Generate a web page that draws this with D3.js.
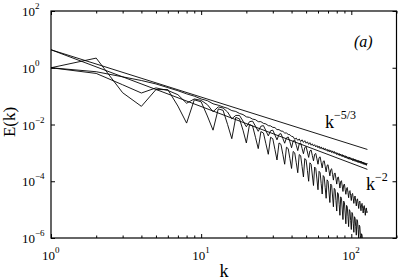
<!DOCTYPE html>
<html>
<head>
<meta charset="utf-8">
<script src="https://cdn.jsdelivr.net/npm/d3@7"></script>
<style>
  body { margin: 0; background: #fff; }
  svg { display: block; font-family: "Liberation Serif", "Times New Roman", serif; }
</style>
</head>
<body>
<svg id="chart" width="398" height="280"></svg>
<script>
// wavenumbers k = 1..128
var kValues = d3.range(1, 129)

// log10 E(k)
var logE_a = [
  0, -0.14, -0.32, -0.45, -0.57, -0.7, -0.81, -0.92, -1.0, -1.1,
  -1.16, -1.27, -1.32, -1.38, -1.43, -1.51, -1.54, -1.61, -1.65, -1.73,
  -1.75, -1.81, -1.83, -1.9, -1.9, -1.96, -1.98, -2.04, -2.05, -2.1,
  -2.11, -2.18, -2.18, -2.23, -2.24, -2.3, -2.3, -2.35, -2.36, -2.42,
  -2.43, -2.52, -2.48, -2.56, -2.51, -2.6, -2.54, -2.63, -2.57, -2.66,
  -2.61, -2.7, -2.64, -2.73, -2.68, -2.76, -2.71, -2.79, -2.74, -2.82,
  -2.76, -2.85, -2.79, -2.87, -2.82, -2.9, -2.84, -2.92, -2.87, -2.95,
  -2.89, -2.97, -2.91, -2.99, -2.93, -3.01, -2.95, -3.03, -2.98, -3.06,
  -3.0, -3.08, -3.02, -3.1, -3.04, -3.12, -3.06, -3.14, -3.08, -3.16,
  -3.1, -3.18, -3.12, -3.2, -3.14, -3.22, -3.15, -3.23, -3.17, -3.25,
  -3.19, -3.27, -3.2, -3.28, -3.22, -3.3, -3.23, -3.31, -3.25, -3.33,
  -3.26, -3.34, -3.28, -3.35, -3.29, -3.37, -3.3, -3.38, -3.32, -3.4,
  -3.33, -3.41, -3.35, -3.42, -3.36, -3.44, -3.37, -3.39
]

var logE_b = [
  0, -0.2, -0.6, -0.89, -0.71, -0.8, -0.95, -1.25, -1.1, -1.15,
  -1.3, -1.55, -1.38, -1.42, -1.56, -1.8, -1.68, -1.68, -1.88, -2.08,
  -1.9, -1.88, -2.06, -2.24, -2.06, -2.04, -2.22, -2.4, -2.22, -2.2,
  -2.37, -2.54, -2.35, -2.32, -2.49, -2.66, -2.47, -2.44, -2.61, -2.82,
  -2.58, -2.55, -2.73, -2.92, -2.68, -2.65, -2.84, -3.03, -2.81, -2.78,
  -2.97, -3.16, -2.93, -2.9, -3.09, -3.28, -3.05, -3.02, -3.21, -3.4,
  -3.17, -3.14, -3.34, -3.53, -3.3, -3.28, -3.47, -3.67, -3.44, -3.42,
  -3.62, -3.81, -3.59, -3.56, -3.76, -3.96, -3.73, -3.71, -3.9, -4.1,
  -3.87, -3.85, -4.04, -4.24, -4.01, -3.98, -4.17, -4.36, -4.13, -4.1,
  -4.29, -4.46, -4.25, -4.22, -4.4, -4.58, -4.36, -4.33, -4.51, -4.68,
  -4.46, -4.43, -4.6, -4.78, -4.56, -4.52, -4.7, -4.87, -4.66, -4.62,
  -4.79, -4.96, -4.74, -4.7, -4.87, -5.04, -4.82, -4.78, -4.95, -5.12,
  -4.9, -4.86, -5.03, -5.2, -4.98, -4.94, -5.11, -5.07
]

var logE_c = [
  0, 0.34, -0.88, -1.36, -0.77, -0.77, -1.35, -1.95, -1.13, -1.2,
  -1.7, -2.2, -1.45, -1.5, -2.0, -2.5, -1.75, -1.8, -2.2, -2.65,
  -2.0, -2.05, -2.45, -2.85, -2.25, -2.3, -2.68, -3.05, -2.45, -2.5,
  -2.88, -3.25, -2.65, -2.7, -3.05, -3.4, -2.8, -2.85, -3.2, -3.55,
  -2.95, -3.0, -3.35, -3.7, -3.06, -3.1, -3.48, -3.85, -3.2, -3.25,
  -3.62, -4.0, -3.35, -3.4, -3.78, -4.15, -3.5, -3.55, -3.92, -4.3,
  -3.65, -3.7, -4.08, -4.45, -3.8, -3.85, -4.22, -4.6, -3.95, -4.0,
  -4.38, -4.75, -4.1, -4.15, -4.52, -4.9, -4.25, -4.3, -4.68, -5.05,
  -4.4, -4.45, -4.82, -5.2, -4.55, -4.6, -4.98, -5.35, -4.7, -4.75,
  -5.12, -5.5, -4.85, -4.9, -5.25, -5.6, -5.0, -5.05, -5.38, -5.7,
  -5.1, -5.15, -5.48, -5.8, -5.25, -5.3, -5.6, -5.9, -5.35, -5.4,
  -5.7, -6.0, -5.55, -5.6, -5.9, -6.15, -5.85, -5.9, -6.2, -6.4,
  -6.15, -6.2, -6.45, -6.6, -6.45, -6.5, -6.7, -6.8
]

// reference power laws, drawn between two end points
var refK = [1, 128]
var refE53 = [4.3, 0.00132]
var refE2 = [4.3, 0.000262]

// axis ticks
var xMajor = [1, 10, 100]
var xMajorExp = ['0', '1', '2']
var xMinor = [2, 3, 4, 5, 6, 7, 8, 9, 20, 30, 40, 50, 60, 70, 80, 90, 200]
var yMajor = [1e-6, 1e-4, 1e-2, 1, 1e2]
var yMajorExp = ['\u22126', '\u22124', '\u22122', '0', '2']

var plotLeft = 51, plotRight = 396.5, plotTop = 11, plotBottom = 238

var x = d3.scaleLog().domain([1, 200]).range([plotLeft, plotRight])
var y = d3.scaleLog().domain([1e-6, 1e2]).range([plotBottom, plotTop])

var svg = d3.select('#chart')

svg.append('defs').append('clipPath').attr('id', 'clip')
  .append('rect')
  .attr('x', plotLeft).attr('y', plotTop)
  .attr('width', plotRight - plotLeft).attr('height', plotBottom - plotTop)

var line = d3.line()
  .x(function (d) { return x(d[0]) })
  .y(function (d) { return y(d[1]) })

var plot = svg.append('g').attr('clip-path', 'url(#clip)')

var curves = [logE_a, logE_b, logE_c].map(function (arr) {
  return arr.map(function (v, i) { return [kValues[i], Math.pow(10, v)] })
})
var refs = [refE53, refE2].map(function (arr) {
  return arr.map(function (v, i) { return [refK[i], v] })
})

plot.selectAll('.ref')
  .data(refs)
  .enter().append('path')
  .attr('class', 'ref')
  .attr('d', line)
  .attr('fill', 'none')
  .attr('stroke', '#000')
  .attr('stroke-width', 0.9)

plot.selectAll('.spec')
  .data(curves)
  .enter().append('path')
  .attr('class', 'spec')
  .attr('d', line)
  .attr('fill', 'none')
  .attr('stroke', '#000')
  .attr('stroke-width', 0.9)
  .attr('stroke-linejoin', 'round')

// frame + inward ticks
function axisStyle(g) {
  g.select('.domain').remove()
  g.selectAll('.tick line').attr('stroke', '#000')
}

svg.append('g').attr('transform', 'translate(0,' + plotBottom + ')')
  .call(d3.axisBottom(x).tickValues(xMajor).tickSize(-4).tickFormat(''))
  .call(axisStyle)
svg.append('g').attr('transform', 'translate(0,' + plotBottom + ')')
  .call(d3.axisBottom(x).tickValues(xMinor).tickSize(-2.5).tickFormat(''))
  .call(axisStyle)
svg.append('g').attr('transform', 'translate(0,' + plotTop + ')')
  .call(d3.axisTop(x).tickValues(xMajor).tickSize(-4).tickFormat(''))
  .call(axisStyle)
svg.append('g').attr('transform', 'translate(0,' + plotTop + ')')
  .call(d3.axisTop(x).tickValues(xMinor).tickSize(-2.5).tickFormat(''))
  .call(axisStyle)
svg.append('g').attr('transform', 'translate(' + plotLeft + ',0)')
  .call(d3.axisLeft(y).tickValues(yMajor).tickSize(-4).tickFormat(''))
  .call(axisStyle)
svg.append('g').attr('transform', 'translate(' + plotRight + ',0)')
  .call(d3.axisRight(y).tickValues(yMajor).tickSize(-4).tickFormat(''))
  .call(axisStyle)

svg.append('rect')
  .attr('x', plotLeft).attr('y', plotTop)
  .attr('width', plotRight - plotLeft).attr('height', plotBottom - plotTop)
  .attr('fill', 'none')
  .attr('stroke', '#000')
  .attr('stroke-width', 1.2)

// tick labels 10^n
function powerLabel(g, px, py, exp) {
  var t = g.append('text').attr('x', px).attr('y', py)
    .attr('font-size', 13).attr('fill', '#000')
  t.append('tspan').text('10')
  t.append('tspan').attr('dy', -7).attr('font-size', 9).text(exp)
}

var labels = svg.append('g')
xMajor.forEach(function (v, i) {
  powerLabel(labels, x(v) - 9, 260, xMajorExp[i])
})
yMajor.forEach(function (v, i) {
  powerLabel(labels, 22, y(v) + 5, yMajorExp[i])
})

// axis titles
svg.append('text')
  .attr('x', 224).attr('y', 277)
  .attr('text-anchor', 'middle')
  .attr('font-size', 18)
  .text('k')

svg.append('text')
  .attr('transform', 'translate(15,122) rotate(-90)')
  .attr('text-anchor', 'middle')
  .attr('font-size', 17)
  .text('E(k)')

// annotations
svg.append('text')
  .attr('x', 354).attr('y', 47)
  .attr('font-size', 16)
  .attr('font-style', 'italic')
  .text('(a)')

var a1 = svg.append('text').attr('x', 325).attr('y', 128).attr('font-size', 18)
a1.append('tspan').text('k')
a1.append('tspan').attr('dy', -9).attr('font-size', 12).text('\u22125/3')

var a2 = svg.append('text').attr('x', 366).attr('y', 190).attr('font-size', 18)
a2.append('tspan').text('k')
a2.append('tspan').attr('dy', -9).attr('font-size', 12).text('\u22122')
</script>
</body>
</html>
